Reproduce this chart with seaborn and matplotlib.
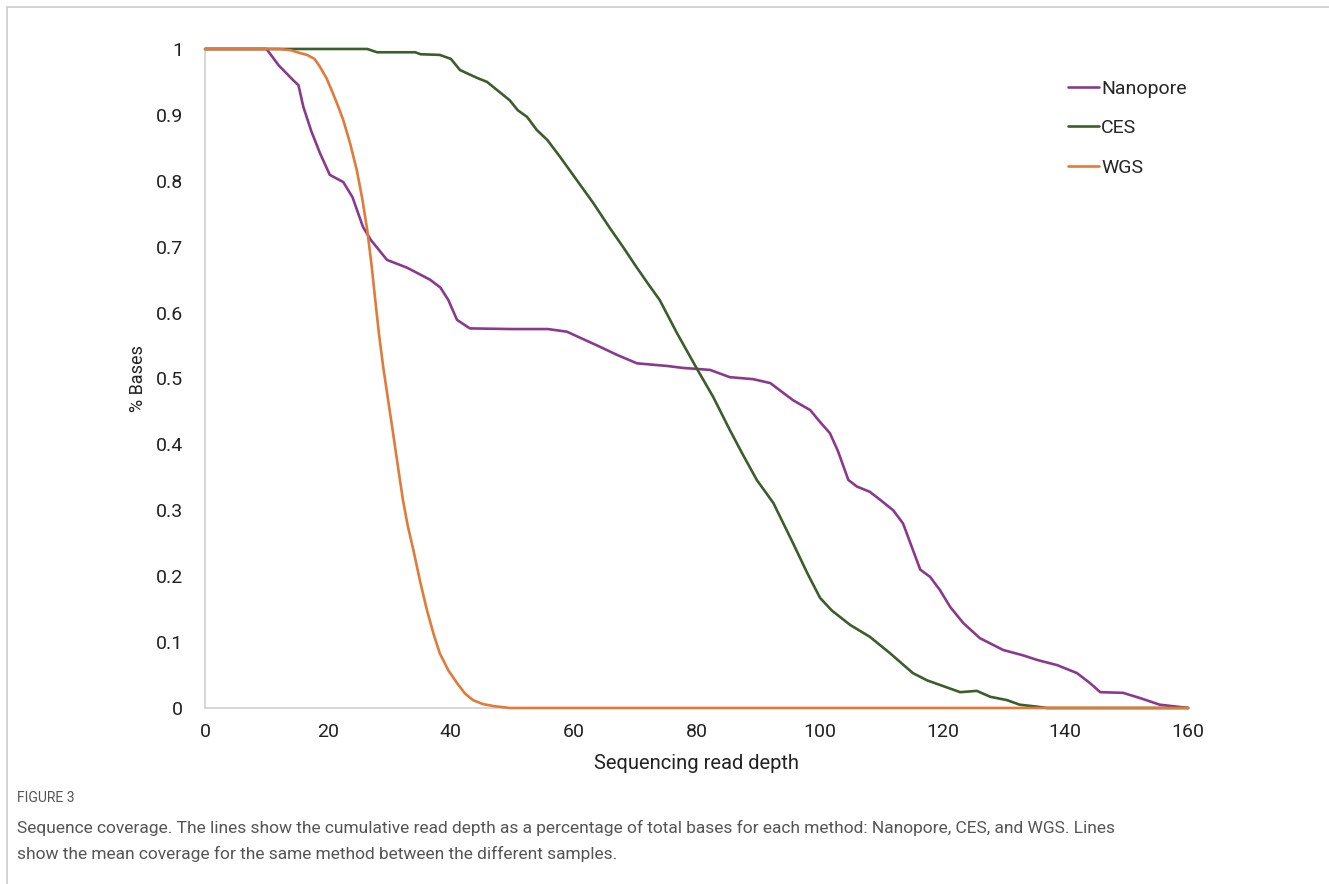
import matplotlib
matplotlib.use('Agg')
import matplotlib.pyplot as plt
import seaborn as sns
import pandas as pd
from matplotlib.lines import Line2D

# Values
nanopore_x = [0, 10, 12, 14.3, 15.2, 16, 17.3, 18.7, 20.3, 22.5, 24, 25.7, 27, 29.6, 32.9, 36.6, 38.3,
              39.6, 41, 41.8, 43.1, 50, 55.8, 58.9, 61, 64.3, 67, 70.3, 75.2, 77.8, 82.2, 85.4, 89.2,
              92, 95.7, 98.5, 100, 101.7, 103, 104.7, 106.1, 108.2, 110, 112, 113.6, 116.4, 118, 119.6,
              121.3, 123.4, 126.1, 129.9, 133.1, 135.4, 138.7, 141.9, 144, 145.7, 149.4, 152.2, 155.4,
              158.2, 160]
nanopore_y = [1, 1, 0.975, 0.953, 0.945, 0.912, 0.875, 0.842, 0.809, 0.798, 0.775, 0.73, 0.71, 0.68,
              0.668, 0.65, 0.638, 0.619, 0.589, 0.584, 0.576, 0.575, 0.575, 0.571, 0.562, 0.548, 0.536,
              0.523, 0.519, 0.516, 0.513, 0.502, 0.499, 0.493, 0.467, 0.452, 0.435, 0.417, 0.39, 0.346,
              0.336, 0.328, 0.315, 0.30, 0.28, 0.21, 0.199, 0.179, 0.153, 0.129, 0.106, 0.088, 0.080,
              0.073, 0.065, 0.053, 0.038, 0.024, 0.023, 0.015, 0.005, 0.002, 0]

ces_x = [0, 26.4, 28, 31.7, 34.2, 35.1, 38.2, 40, 41.5, 44.3, 45.9, 49.6, 50.9, 52.4, 54, 55.7, 57.8,
         60.5, 63.2, 65.9, 68, 70, 72, 74, 76.8, 80.1, 82.7, 85.4, 87.5, 89.8, 92.5, 95.7, 98, 100.1,
         102, 105, 108.2, 111.5, 115.2, 117.5, 119.6, 122.9, 125.6, 127.8, 130.5, 132.6, 135.4, 137, 160]
ces_y = [1, 1, 0.995, 0.995, 0.995, 0.992, 0.991, 0.985, 0.968, 0.956, 0.95, 0.922, 0.907, 0.897, 0.877,
         0.862, 0.836, 0.801, 0.766, 0.728, 0.70, 0.672, 0.645, 0.619, 0.569, 0.514, 0.472, 0.422, 0.385,
         0.346, 0.311, 0.25, 0.205, 0.167, 0.148, 0.126, 0.108, 0.083, 0.053, 0.042, 0.035, 0.024, 0.026,
         0.017, 0.012, 0.005, 0.002, 0, 0]

wgs_x = [0, 12, 14, 15, 16.6, 17.8, 18.7, 19.8, 20.8, 21.7, 22.5, 23.6, 24.7, 25.6, 26.4, 27.1, 27.7,
         28.3, 29, 29.8, 30.6, 31.4, 32.2, 33, 33.9, 35, 36.1, 37.2, 38.2, 39.6, 41, 42.3, 43.6, 45.2,
         46.9, 49.6, 160]
wgs_y = [1, 1, 0.998, 0.995, 0.991, 0.985, 0.973, 0.955, 0.933, 0.912, 0.892, 0.857, 0.816, 0.772,
         0.725, 0.672, 0.619, 0.568, 0.517, 0.467, 0.417, 0.366, 0.316, 0.276, 0.24, 0.192, 0.149,
         0.112, 0.083, 0.057, 0.038, 0.022, 0.012, 0.006, 0.003, 0, 0]

methods = ['Nanopore', 'CES', 'WGS']
colors = {'Nanopore': '#8A3A8C', 'CES': '#3B5E2B', 'WGS': '#E07B39'}

df = pd.concat([
    pd.DataFrame({'depth': nanopore_x, 'bases': nanopore_y, 'method': 'Nanopore'}),
    pd.DataFrame({'depth': ces_x, 'bases': ces_y, 'method': 'CES'}),
    pd.DataFrame({'depth': wgs_x, 'bases': wgs_y, 'method': 'WGS'}),
], ignore_index=True)

sns.set_theme(style='white')
plt.rcParams['font.family'] = ['Roboto', 'DejaVu Sans']

fig = plt.figure(figsize=(13.29, 8.84), dpi=100)
ax = fig.add_axes([0.1543, 0.1991, 0.7397, 0.7455])

for m in methods:
    sub = df[df['method'] == m]
    sns.lineplot(data=sub, x='depth', y='bases', color=colors[m], linewidth=1.9, zorder=3,
                 ax=ax, label=m, sort=False, estimator=None, clip_on=False)

ax.set_xlim(0, 160)
ax.set_ylim(0, 1)
ax.set_xticks(range(0, 161, 20))
yt = [i / 10 for i in range(11)]
ax.set_yticks(yt)
ax.set_yticklabels([f'{v:g}' for v in yt])
ax.tick_params(axis='y', length=0, pad=16, labelsize=14, labelcolor='#222222')
ax.tick_params(axis='x', length=0, pad=11, labelsize=14, labelcolor='#222222')

for side in ['top', 'right']:
    ax.spines[side].set_visible(False)
for side in ['left', 'bottom']:
    ax.spines[side].set_color('#D0D0D0')
    ax.spines[side].set_linewidth(1.2)

ax.set_xlabel('Sequencing read depth', fontsize=14.5, color='#222222', labelpad=9)
ax.set_ylabel('% Bases', fontsize=13, color='#222222', labelpad=6)

handles = [Line2D([0], [0], color=colors[m], linewidth=1.9) for m in methods]
ax.legend(handles, methods, loc='upper left', bbox_to_anchor=(0.87, 0.965), frameon=False,
          fontsize=14, handlelength=1.6, handletextpad=0.1, labelspacing=1.1, borderaxespad=0)

# Caption below the chart
fig.text(0.0128, 0.093, 'FIGURE 3', fontsize=10, color='#555555')
fig.text(0.0128, 0.058,
         'Sequence coverage. The lines show the cumulative read depth as a percentage of total bases for each method: Nanopore, CES, and WGS. Lines',
         fontsize=12.5, color='#555555')
fig.text(0.0128, 0.028, 'show the mean coverage for the same method between the different samples.',
         fontsize=12.5, color='#555555')

# Light frame lines at top and left
fig.add_artist(Line2D([0.005, 1], [0.992, 0.992], color='#CCCCCC', linewidth=1.2, transform=fig.transFigure))
fig.add_artist(Line2D([0.005, 0.005], [0, 0.992], color='#CCCCCC', linewidth=1.2, transform=fig.transFigure))

plt.savefig('out.png', dpi=100)
plt.close()
